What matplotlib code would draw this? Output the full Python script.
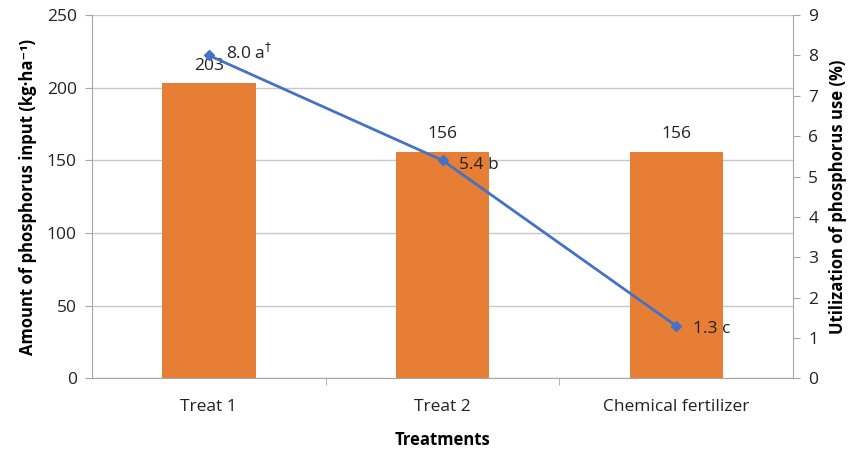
import numpy as np
import matplotlib.pyplot as plt

plt.rcParams['font.family'] = ['Open Sans', 'DejaVu Sans']

treatments = ['Treat 1', 'Treat 2', 'Chemical fertilizer']
phosphorus_input = [203, 156, 156]          # kg/ha
utilization = [8.0, 5.4, 1.3]               # %
letters = ['a', 'b', 'c']

bar_color = '#E67E36'
line_color = '#4472C4'
axis_gray = '#A6A6A6'
grid_gray = '#C8C8C8'
fs = 12.5

fig = plt.figure(figsize=(8.56, 4.51), dpi=100)
ax = fig.add_axes([0.1075, 0.1608, 0.819, 0.806])
x = np.arange(len(treatments))

bars = ax.bar(x, phosphorus_input, width=0.4, color=bar_color, zorder=2)
ax.set_xlim(-0.5, len(treatments) - 0.5)
ax.set_ylim(0, 250)
ax.set_yticks(np.arange(0, 251, 50))
ax.grid(axis='y', color=grid_gray, linewidth=1.0, zorder=0)

for bar, val in zip(bars, phosphorus_input):
    ax.annotate(f"{val}", xy=(bar.get_x() + bar.get_width() / 2, val),
                xytext=(0, 7), textcoords='offset points',
                ha='center', va='bottom', fontsize=fs, color='#222222')

# category ticks sit between the bars
ax.set_xticks(x)
ax.set_xticklabels(treatments, fontsize=fs, color='#222222')
ax.tick_params(axis='x', length=0, pad=15)
ax.set_xticks(np.arange(0.5, len(treatments) - 0.5, 1), minor=True)
ax.tick_params(axis='x', which='minor', direction='out', length=5, color=axis_gray)
ax.tick_params(axis='y', direction='out', length=5, color=axis_gray,
               labelsize=fs, labelcolor='#222222', pad=6)

for side in ['top', 'right']:
    ax.spines[side].set_visible(False)
for side in ['left', 'bottom']:
    ax.spines[side].set_color(axis_gray)

ax.set_ylabel("Amount of phosphorus input (kg·ha⁻¹)", fontsize=12,
              fontweight='bold', labelpad=7)
ax.set_xlabel("Treatments", fontsize=12, fontweight='bold', labelpad=11)

ax2 = ax.twinx()
ax2.plot(x, utilization, color=line_color, linewidth=2.0, marker='D',
         markersize=5.5, zorder=3)
ax2.set_ylim(0, 9)
ax2.set_yticks(np.arange(0, 10, 1))
ax2.tick_params(axis='y', direction='out', length=5, color=axis_gray,
                labelsize=fs, labelcolor='#222222', pad=6)
for side in ['top', 'left', 'bottom']:
    ax2.spines[side].set_visible(False)
ax2.spines['right'].set_color(axis_gray)
ax2.set_ylabel("Utilization of phosphorus use (%)", fontsize=12,
               fontweight='bold', labelpad=8)

label_offsets = [(12, 2), (12, -3), (12, -2)]
for xi, val, let, off in zip(x, utilization, letters, label_offsets):
    txt = f"{val:.1f} {let}"
    if xi == 0:
        txt += "$^{\\dagger}$"
    ax2.annotate(txt, xy=(xi, val), xytext=off, textcoords='offset points',
                 ha='left', va='center', fontsize=fs, color='#222222')

fig.savefig('out.png', dpi=100)
